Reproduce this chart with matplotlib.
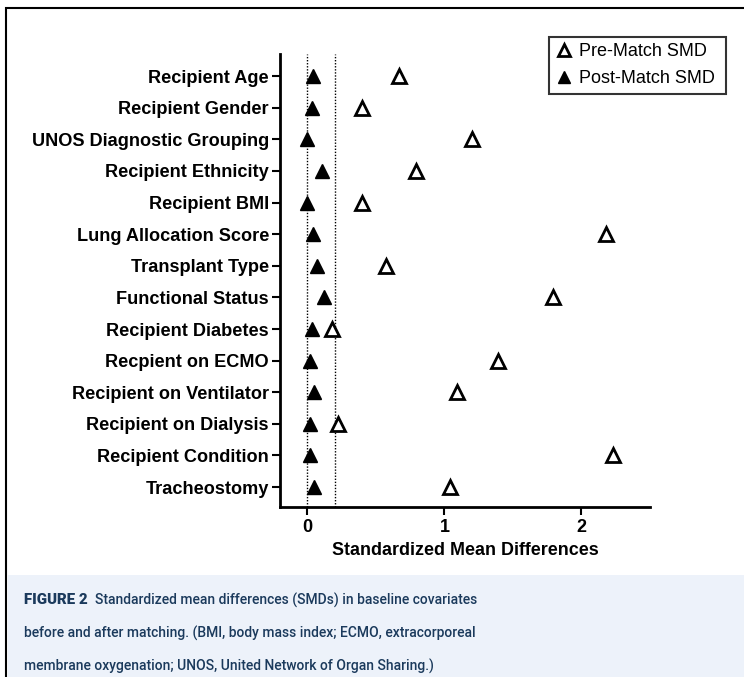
import matplotlib
matplotlib.use('Agg')
import matplotlib.pyplot as plt
from matplotlib.patches import Rectangle
from matplotlib.lines import Line2D

plt.rcParams['font.family'] = ['Liberation Sans', 'DejaVu Sans']

covariates = ["Recipient Age", "Recipient Gender", "UNOS Diagnostic Grouping",
              "Recipient Ethnicity", "Recipient BMI", "Lung Allocation Score",
              "Transplant Type", "Functional Status", "Recipient Diabetes",
              "Recpient on ECMO", "Recipient on Ventilator", "Recipient on Dialysis",
              "Recipient Condition", "Tracheostomy"]
pre_smd = [0.67, 0.40, 1.20, 0.79, 0.40, 2.18, 0.57, 1.79, 0.18, 1.39, 1.09, 0.22, 2.23, 1.04]
post_smd = [0.04, 0.03, 0.00, 0.11, 0.00, 0.04, 0.07, 0.12, 0.03, 0.02, 0.05, 0.02, 0.02, 0.05]
thresholds = [0, 0.2]
xticks = [0, 1, 2]

caption_lines = ["before and after matching. (BMI, body mass index; ECMO, extracorporeal",
                 "membrane oxygenation; UNOS, United Network of Organ Sharing.)"]
caption_first = "Standardized mean differences (SMDs) in baseline covariates"

fig = plt.figure(figsize=(7.44, 6.77), dpi=100)
W, H = 744, 677

# outer frame and caption background
fig.patches.append(Rectangle((6 / W, -0.01), 1.0, (H - 8) / H + 0.01, transform=fig.transFigure,
                             facecolor='white', edgecolor='black', linewidth=1.5, zorder=-2))
fig.patches.append(Rectangle((7.5 / W, 0), 1.0, (H - 575) / H, transform=fig.transFigure,
                             facecolor='#edf2fa', edgecolor='none', zorder=-1))

ax = fig.add_axes([280 / W, (H - 507) / H, 370 / W, (507 - 54) / H])
ax.set_zorder(2)
ax.set_facecolor('none')
y = list(range(len(covariates)))

for t in thresholds:
    ax.axvline(t, color='black', linestyle=(0, (1, 1.2)), linewidth=1.0, zorder=1)

ax.plot(pre_smd, y, linestyle='none', marker='^', markersize=10, markerfacecolor='white',
        markeredgecolor='black', markeredgewidth=2.0, zorder=3)
ax.plot(post_smd, y, linestyle='none', marker='^', markersize=10, markerfacecolor='black',
        markeredgecolor='black', zorder=3)

ax.set_xlim(-0.2, 2.5)
ax.set_ylim(13.63, -0.7)
ax.set_yticks(y)
ax.set_yticklabels(covariates, fontsize=13.1, fontweight='bold')
ax.set_xticks(xticks)
ax.set_xticklabels([str(v) for v in xticks], fontsize=13, fontweight='bold')
ax.set_xlabel("Standardized Mean Differences", fontsize=12.9, fontweight='bold', labelpad=4)
for s in ['top', 'right']:
    ax.spines[s].set_visible(False)
for s in ['left', 'bottom']:
    ax.spines[s].set_linewidth(2)
ax.tick_params(axis='both', width=1.5, length=6, pad=2)
ax.tick_params(axis='x', pad=3)

handles = [Line2D([], [], linestyle='none', marker='^', markersize=9, markerfacecolor='white',
                  markeredgecolor='black', markeredgewidth=2.0),
           Line2D([], [], linestyle='none', marker='^', markersize=9, markerfacecolor='black',
                  markeredgecolor='black')]
leg = fig.legend(handles, ["Pre-Match SMD ", "Post-Match SMD "], loc='upper right',
                 bbox_to_anchor=(726 / W, (H - 37) / H), fontsize=13, fancybox=False,
                 frameon=True, handletextpad=0.3, handlelength=1.0, borderpad=0.35,
                 labelspacing=0.55, borderaxespad=0)
leg.get_frame().set_edgecolor('black')
leg.get_frame().set_linewidth(1.5)

# caption: scale font so line widths match the reference
cap_color = '#1b3a5c'
cap_font = ['Roboto', 'Liberation Sans']
probe = fig.text(0, 0, caption_lines[0], fontsize=12, family=cap_font, fontweight='medium')
fig.canvas.draw()
cap_size = 12 * 453.0 / probe.get_window_extent().width
probe.remove()

t0 = fig.text(24 / W, (H - 600) / H, "FIGURE 2", fontsize=cap_size + 0.8, fontweight='heavy',
              color=cap_color, va='center', ha='left', zorder=5, family=cap_font)
fig.text(95 / W, (H - 600) / H, caption_first, fontsize=cap_size, color=cap_color,
         va='center', ha='left', zorder=5, family=cap_font, fontweight='medium')
for i, line in enumerate(caption_lines):
    fig.text(24 / W, (H - 633 - 33 * i) / H, line, fontsize=cap_size, color=cap_color,
             va='center', ha='left', zorder=5, family=cap_font, fontweight='medium')

plt.savefig('out.png', dpi=100)
